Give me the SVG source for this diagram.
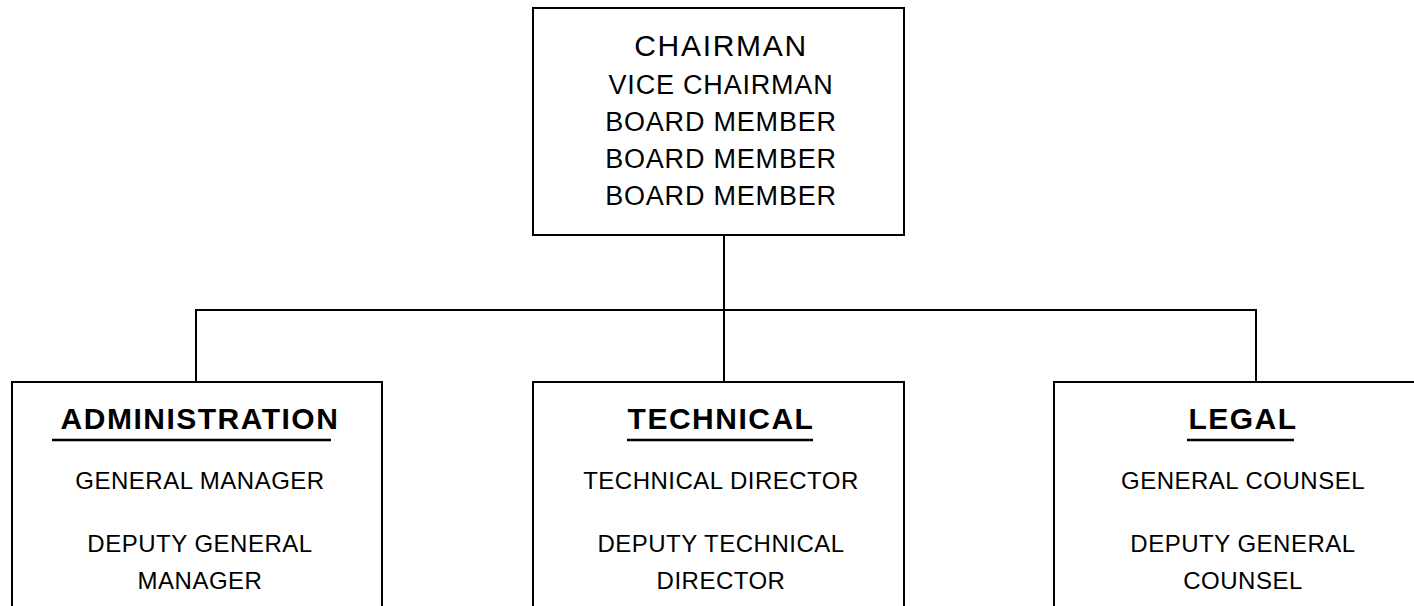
<svg xmlns="http://www.w3.org/2000/svg" width="1414" height="606" viewBox="0 0 1414 606">
  <style>
    .box { fill: #ffffff; stroke: #000000; stroke-width: 2; }
    .conn { fill: none; stroke: #000000; stroke-width: 2; }
    .ul { stroke: #000000; stroke-width: 2.5; }
    text { font-family: "Liberation Sans", Arial, sans-serif; fill: #000000; text-anchor: middle; }
    .top1 { font-size: 30px; letter-spacing: 1.7px; }
    .top { font-size: 27px; letter-spacing: 0.8px; }
    .head { font-size: 30px; font-weight: bold; letter-spacing: 1.5px; }
    .role { font-size: 24px; letter-spacing: 0.5px; }
  </style>
  <rect width="1414" height="606" fill="#ffffff"/>
  <g id="connectors">
    <path class="conn" d="M724 235 V382"/>
    <path class="conn" d="M196 382 V310 H1256 V382"/>
  </g>
  <g id="board">
    <rect class="box" x="533" y="8" width="371" height="227"/>
    <text class="top1" x="721" y="56">CHAIRMAN</text>
    <text class="top" x="721" y="94">VICE CHAIRMAN</text>
    <text class="top" x="721" y="131">BOARD MEMBER</text>
    <text class="top" x="721" y="168">BOARD MEMBER</text>
    <text class="top" x="721" y="205">BOARD MEMBER</text>
  </g>
  <g id="administration">
    <rect class="box" x="12" y="382" width="370" height="260"/>
    <text class="head" x="200" y="429">ADMINISTRATION</text>
    <line class="ul" x1="52" y1="440" x2="331" y2="440"/>
    <text class="role" x="200" y="489">GENERAL MANAGER</text>
    <text class="role" x="200" y="552">DEPUTY GENERAL</text>
    <text class="role" x="200" y="589">MANAGER</text>
  </g>
  <g id="technical">
    <rect class="box" x="533" y="382" width="371" height="260"/>
    <text class="head" x="721" y="429">TECHNICAL</text>
    <line class="ul" x1="627" y1="440" x2="813" y2="440"/>
    <text class="role" x="721" y="489">TECHNICAL DIRECTOR</text>
    <text class="role" x="721" y="552">DEPUTY TECHNICAL</text>
    <text class="role" x="721" y="589">DIRECTOR</text>
  </g>
  <g id="legal">
    <rect class="box" x="1054" y="382" width="400" height="260"/>
    <text class="head" x="1243" y="429">LEGAL</text>
    <line class="ul" x1="1187" y1="440" x2="1294" y2="440"/>
    <text class="role" x="1243" y="489">GENERAL COUNSEL</text>
    <text class="role" x="1243" y="552">DEPUTY GENERAL</text>
    <text class="role" x="1243" y="589">COUNSEL</text>
  </g>
</svg>
